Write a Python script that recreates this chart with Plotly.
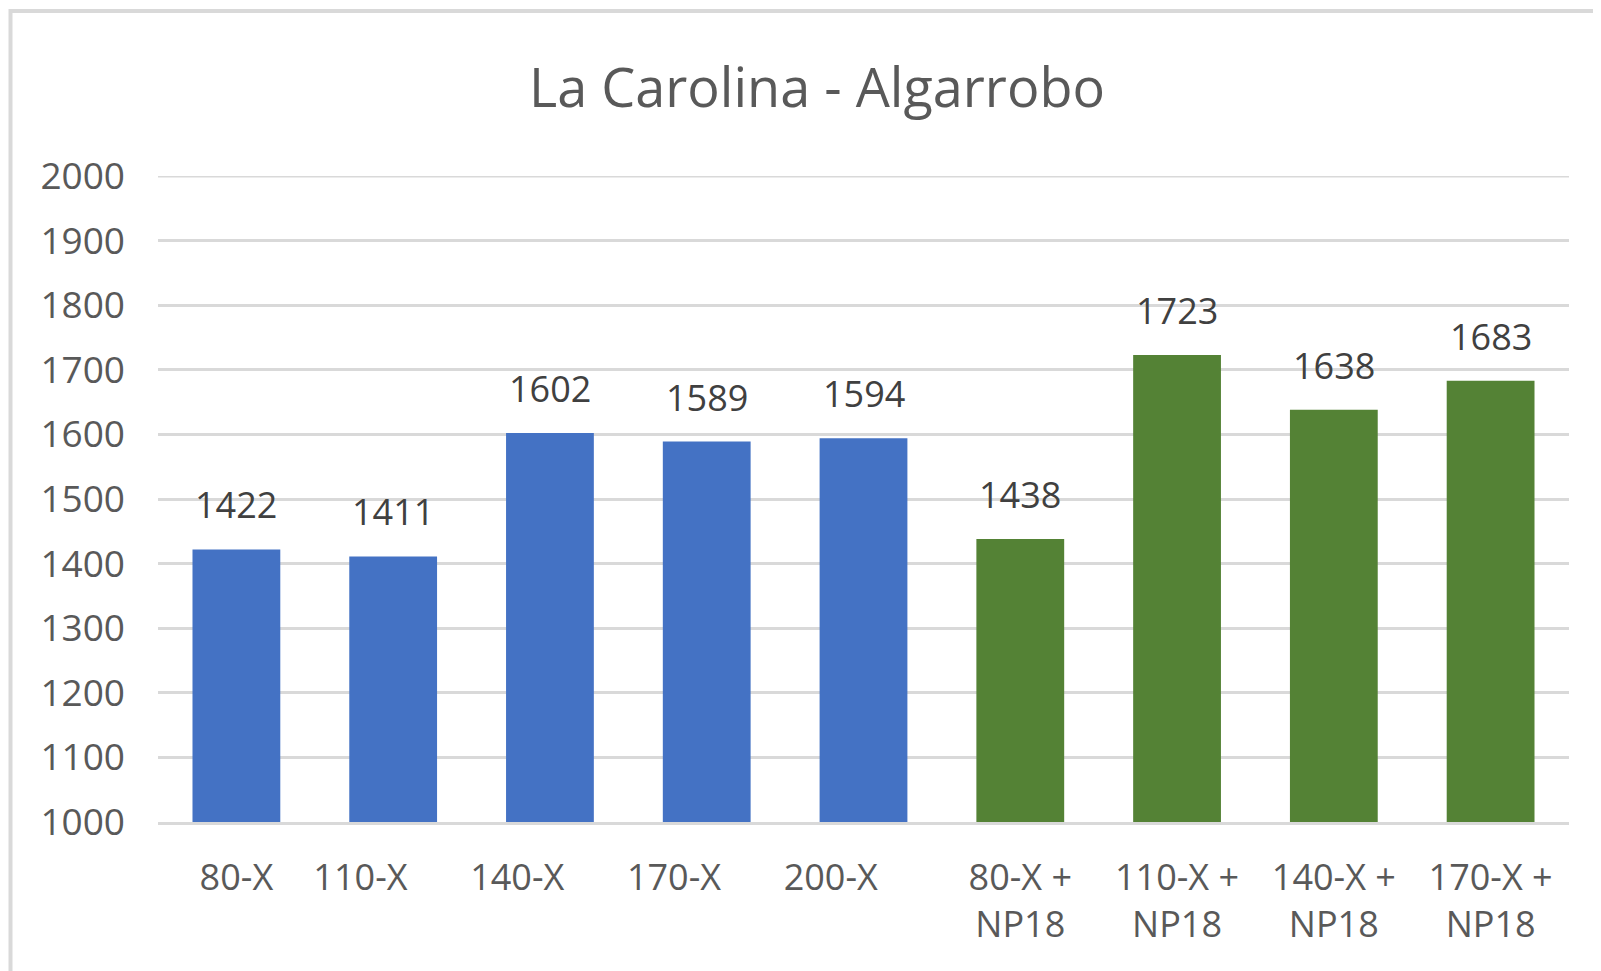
import plotly.graph_objects as go

categories = ["80-X", "110-X", "140-X", "170-X", "200-X",
              "80-X + NP18", "110-X + NP18", "140-X + NP18", "170-X + NP18"]
values = [1422, 1411, 1602, 1589, 1594, 1438, 1723, 1638, 1683]
bar_colors = ["#4472C4"] * 5 + ["#548235"] * 4
y_ticks = [1000, 1100, 1200, 1300, 1400, 1500, 1600, 1700, 1800, 1900, 2000]
PAD = "\u00a0" * 7  # the reference draws these labels left of their bars
tick_labels = ["80-X", "110-X" + PAD, "140-X" + PAD, "170-X" + PAD, "200-X" + PAD,
               "80-X +<br>NP18", "110-X +<br>NP18", "140-X +<br>NP18", "170-X +<br>NP18"]

# page body has an 8px margin; figure is sized to fit the window
W, H = 1593, 963
L, R, T, B = 150, 32, 168, 149
pw, ph = W - L - R, H - T - B

FONT = "Open Sans"

fig = go.Figure()
fig.add_trace(go.Bar(
    x=categories, y=values, marker=dict(color=bar_colors, line=dict(width=0)),
))

annotations = []
for c, v in zip(categories, values):
    annotations.append(dict(
        x=c, y=v, xref="x", yref="y", text=str(v), showarrow=False,
        yanchor="bottom", yshift=18,
        font=dict(family=FONT, size=36, color="#404040"),
    ))

def px_to_paper_x(px):
    return (px - L) / pw

def px_to_paper_y(py):
    return (H - B - py) / ph

shapes = [
    dict(type="rect", xref="paper", yref="paper",
         x0=px_to_paper_x(2.5), x1=px_to_paper_x(1640),
         y0=px_to_paper_y(1000), y1=px_to_paper_y(3),
         line=dict(color="#D9D9D9", width=4), fillcolor="rgba(0,0,0,0)", layer="below"),
    # top gridline (plotly omits the grid line on the range edge)
    dict(type="line", xref="paper", yref="y", x0=0, x1=1,
         y0=y_ticks[-1], y1=y_ticks[-1],
         line=dict(color="#D9D9D9", width=3), layer="below"),
]

fig.update_layout(
    width=W, height=H,
    margin=dict(l=L, r=R, t=T, b=B, autoexpand=False),
    paper_bgcolor="white", plot_bgcolor="white",
    bargap=0.44,
    showlegend=False,
    title=dict(text="La Carolina - Algarrobo", x=809 / W, xanchor="center", xref="container",
               y=1 - 80 / H, yanchor="middle", yref="container",
               font=dict(family=FONT, size=54, color="#595959")),
    annotations=annotations,
    shapes=shapes,
    font=dict(family=FONT, color="#595959"),
)
fig.update_xaxes(
    tickvals=categories, ticktext=tick_labels, tickangle=0, automargin=False,
    showgrid=False, showline=True, linecolor="#D9D9D9", linewidth=3,
    ticks="", tickfont=dict(family=FONT, size=36, color="#595959"),
    ticklabelstandoff=22,
)
fig.update_yaxes(
    range=[1000, 2000], tickvals=y_ticks, showgrid=True, gridcolor="#D9D9D9", gridwidth=3,
    zeroline=False, showline=False, ticks="", automargin=False,
    tickfont=dict(family=FONT, size=37, color="#595959"),
    ticklabelstandoff=32,
)

fig.write_html("out.html")
